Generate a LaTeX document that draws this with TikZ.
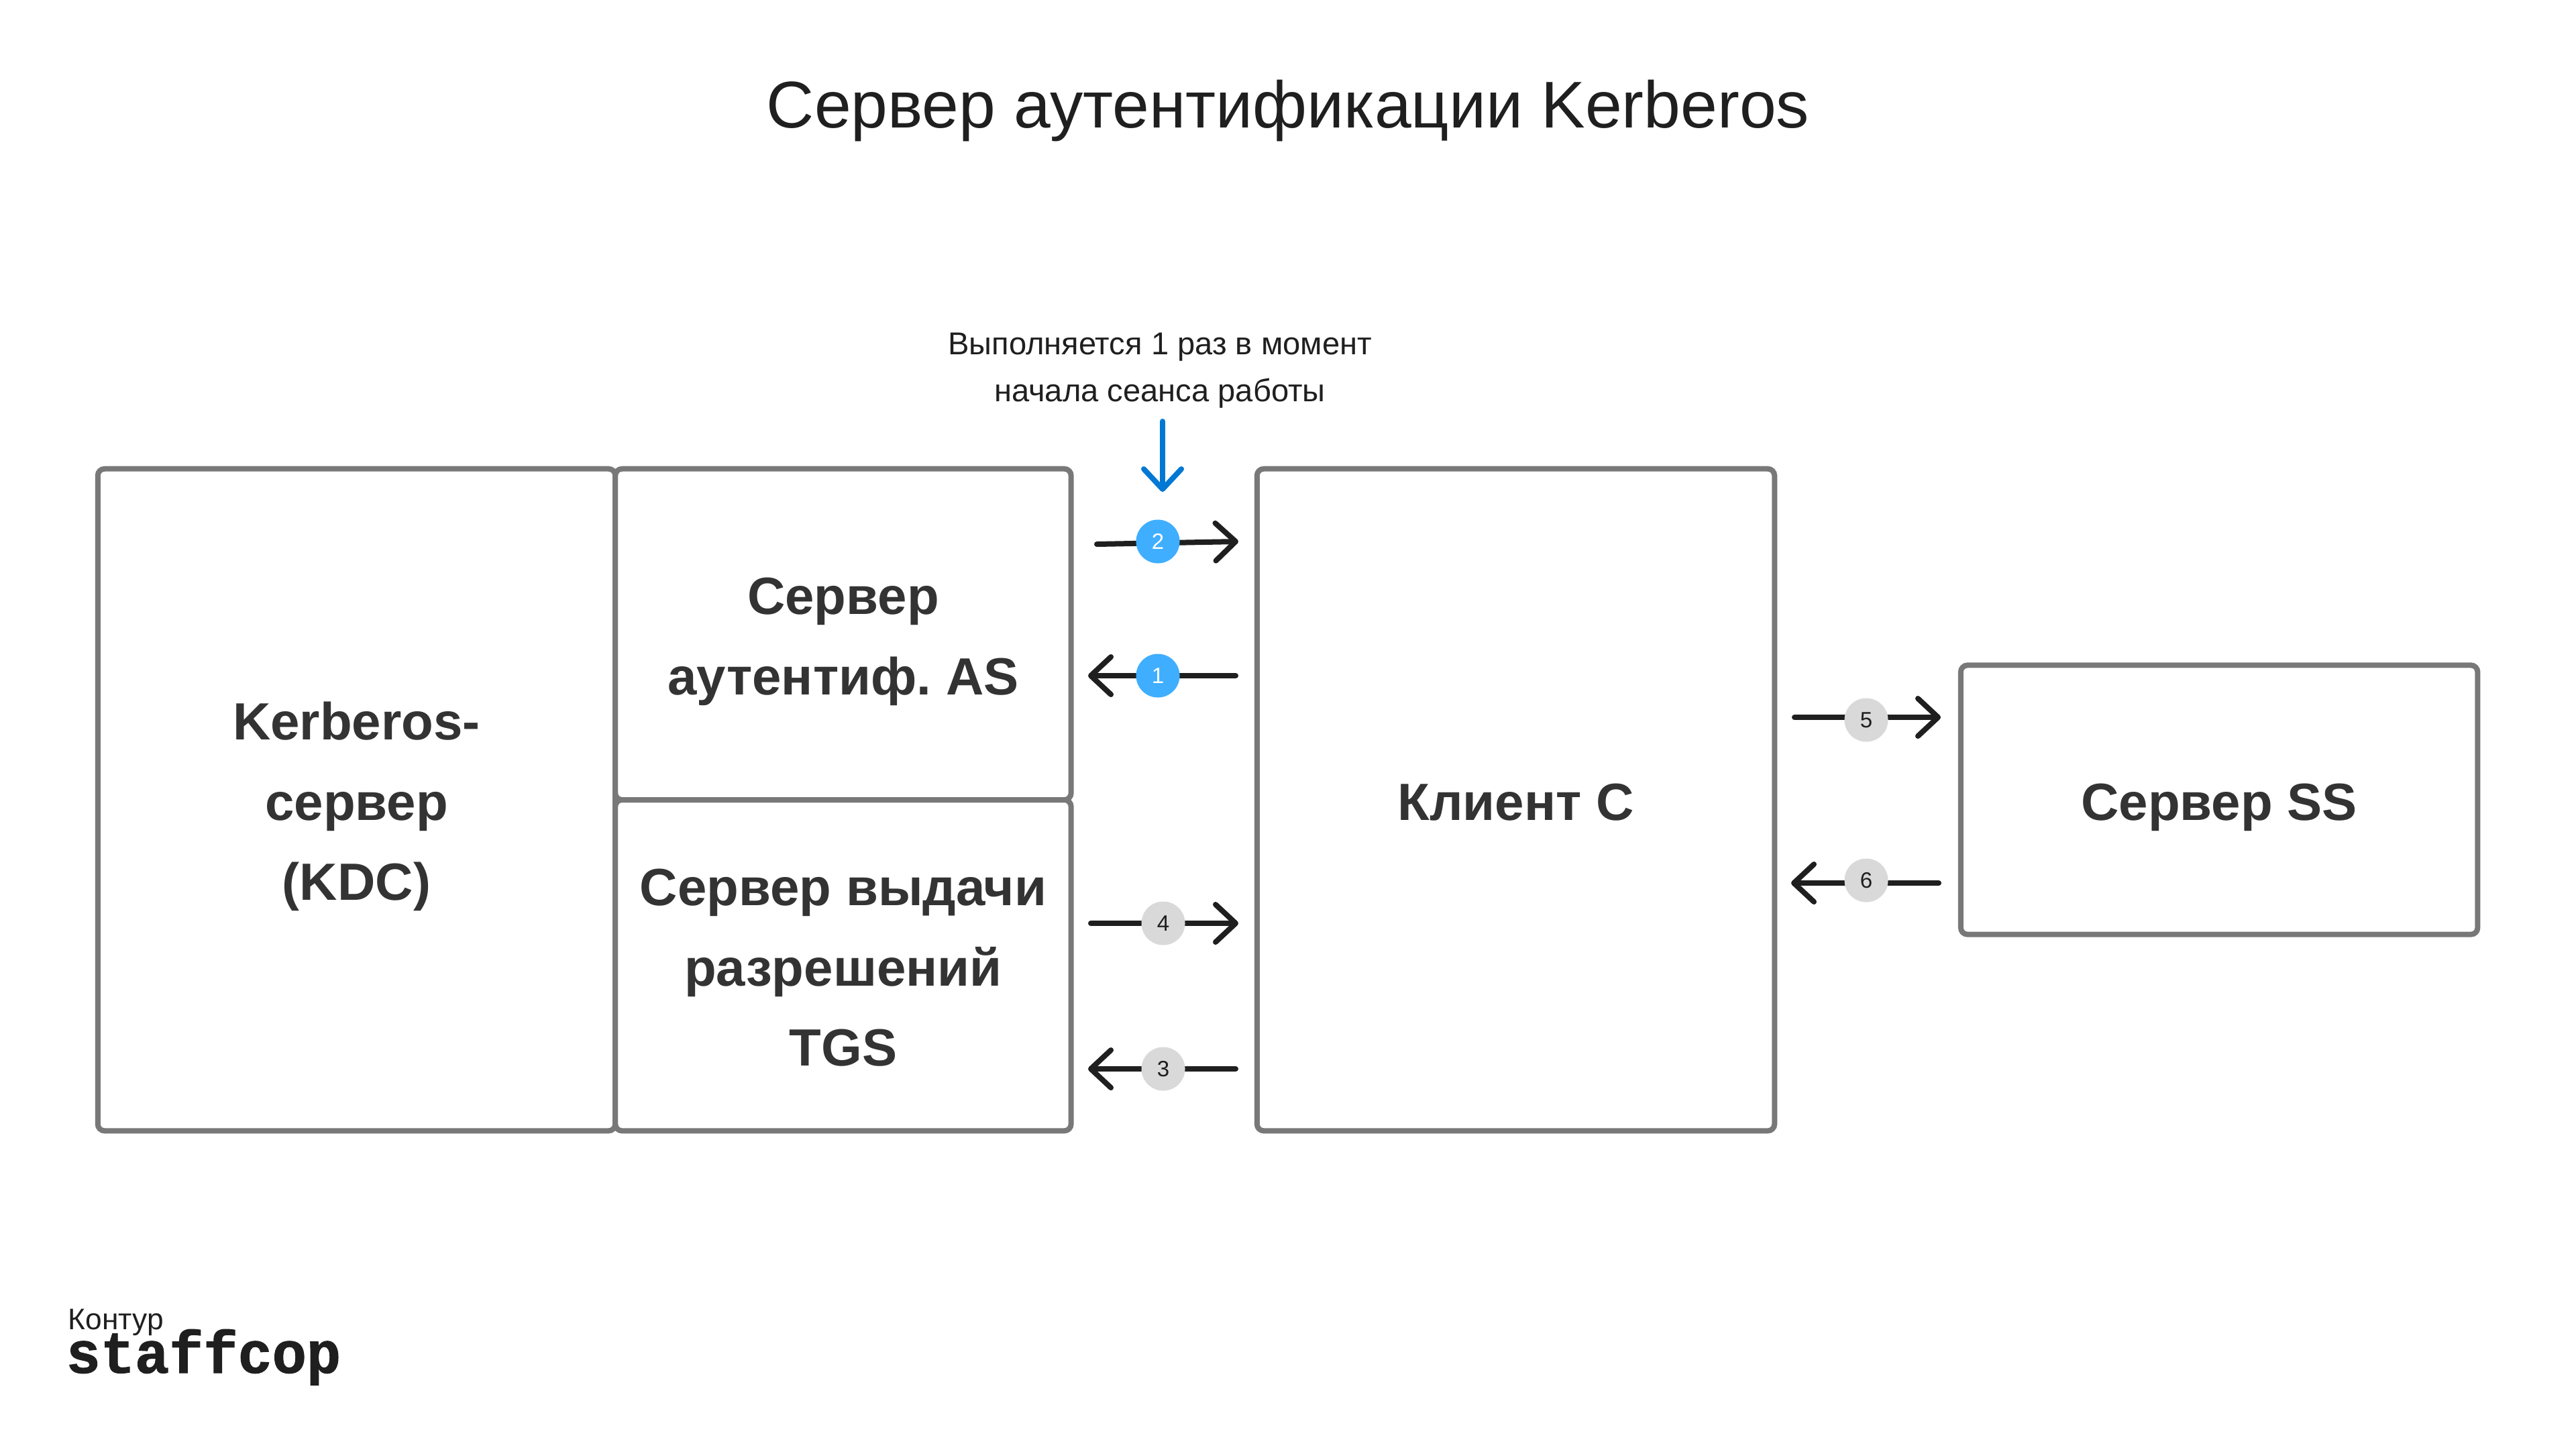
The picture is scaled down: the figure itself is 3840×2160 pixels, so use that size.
\documentclass[tikz,border=0pt]{standalone}
\usepackage{fontspec}
\usetikzlibrary{positioning, arrows.meta}
\setmainfont{Liberation Sans}
\newfontfamily\logofont[BoldFeatures={FakeBold=1.2,FakeStretch=0.97}]{Liberation Mono}
\definecolor{boxgray}{HTML}{787878}
\definecolor{inkdark}{HTML}{1F1F1F}
\definecolor{boxink}{HTML}{333333}
\definecolor{bluearrow}{HTML}{0078D4}
\definecolor{badgeblue}{HTML}{3FAEFF}
\definecolor{badgegray}{HTML}{D9D9D9}
\newcommand{\lowerwide}{\rule{0pt}{21.7pt}}
\newcommand{\lowerslim}{\rule{0pt}{17.5pt}}

\begin{document}
\frenchspacing
\begin{tikzpicture}[x=0.01cm, y=-0.01cm, 
  main/.style = {draw=boxgray, line width=0.08cm, rectangle, rounded corners=0.1cm, outer sep=0pt, align=center, text=boxink, font=\fontsize{22.2}{34}\selectfont\bfseries},
  flow/.style = {draw=inkdark, line width=0.08cm, line cap=round, -{Straight Barb[length=0.3cm, width=0.56cm, line cap=round, round]}},
  badge/.style = {circle, minimum size=0.65cm, inner sep=0pt, font=\fontsize{9.4}{11}\selectfont},
  blue/.style = {badge, fill=badgeblue, text=white},
  gray/.style = {badge, fill=badgegray, text=inkdark}]

\useasboundingbox (0,0) rectangle (3840,2160);

\node[font=\fontsize{28}{34}\selectfont, text=inkdark] (title) at (1920,165) {Сервер аутентификации Kerberos};

\node[main, minimum width=7.71cm, minimum height=9.86cm] (kdc) at (531.5,1192) {\lowerwide Kerberos-\\сервер\\(KDC)};
\node[main, minimum width=6.79cm, minimum height=4.93cm, right=0cm of kdc.north east, anchor=north west] (as) {\lowerwide Сервер\\аутентиф. AS};
\node[main, minimum width=6.79cm, minimum height=4.93cm, below=0cm of as] (tgs) {\lowerslim Сервер выдачи\\разрешений\\TGS};
\node[main, minimum width=7.71cm, minimum height=9.86cm, right=2.77cm of as.north east, anchor=north west] (client) {\lowerslim Клиент С};
\node[main, minimum width=7.7cm, minimum height=4.01cm, right=2.775cm of client] (ss) {\lowerwide Сервер SS};

\node[align=center, text=inkdark, font=\fontsize{13.4}{20}\selectfont] (note) at (1729,552) {Выполняется 1 раз в момент\\начала сеанса работы};
\coordinate (notestart) at (1733,628);
\coordinate (noteend) at (1733,733);
\draw[flow, draw=bluearrow] (notestart) -- (noteend);

\coordinate (w2) at (1635,811);
\coordinate (e2) at (1846,807);
\coordinate (e1) at (1842,1007);
\coordinate (w1) at (1622,1007);
\coordinate (w4) at (1626,1376);
\coordinate (e4) at (1846,1376);
\coordinate (e3) at (1842,1593);
\coordinate (w3) at (1622,1593);
\coordinate (w5) at (2675,1069);
\coordinate (e5) at (2893,1069);
\coordinate (e6) at (2890,1316);
\coordinate (w6) at (2670,1316);

\draw[flow] (w2) -- (e2);
\draw[flow] (e1) -- (w1);
\draw[flow] (w4) -- (e4);
\draw[flow] (e3) -- (w3);
\draw[flow] (w5) -- (e5);
\draw[flow] (e6) -- (w6);

\node[blue] (2) at (1726,807) {2};
\node[blue] (1) at (1726,1007) {1};
\node[gray] (4) at (1734,1376) {4};
\node[gray] (3) at (1734,1593) {3};
\node[gray] (5) at (2782,1073) {5};
\node[gray] (6) at (2782,1312) {6};

\node[anchor=base west, inner sep=0pt, text=inkdark, font=\fontsize{12.6}{15}\selectfont] (kontur) at (101,1981) {Контур};
\node[anchor=base west, inner sep=0pt, text=inkdark, font=\fontsize{25}{29}\selectfont\logofont\bfseries] (staffcop) at (98,2046) {staffcop};

\end{tikzpicture}
\end{document}
